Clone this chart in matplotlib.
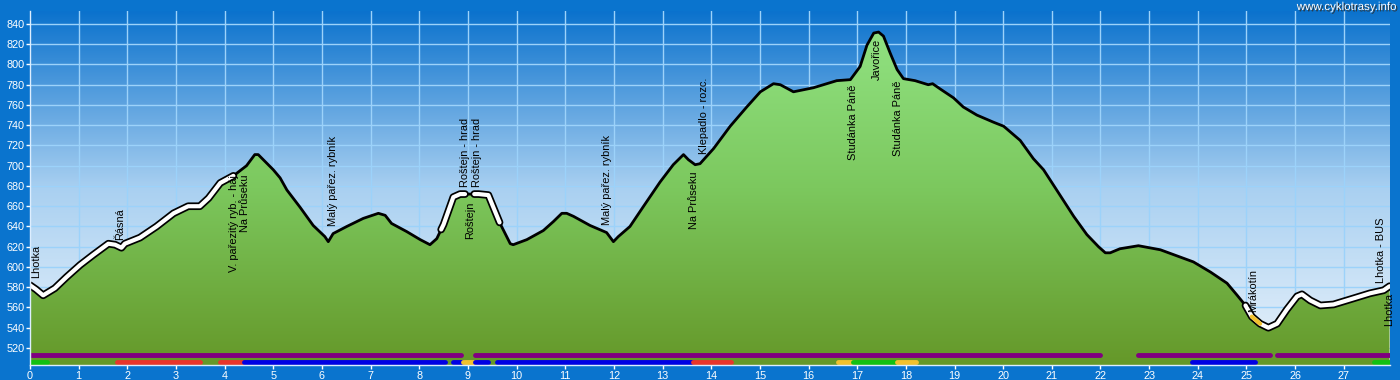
import numpy as np
import matplotlib
matplotlib.use("Agg")
import matplotlib.pyplot as plt
import matplotlib.patheffects as pe
from matplotlib.colors import LinearSegmentedColormap

# ----------------------------------------------------------------- data
km = [0.00, 0.12, 0.27, 0.51, 0.75, 1.03, 1.30, 1.61, 1.75, 1.88, 1.95, 2.26,
      2.60, 2.95, 3.25, 3.49, 3.67, 3.91, 4.18, 4.45, 4.62, 4.69, 5.00, 5.14,
      5.28, 5.55, 5.82, 6.06, 6.13, 6.23, 6.51, 6.85, 7.16, 7.30, 7.43, 7.74,
      8.02, 8.22, 8.36, 8.45, 8.50, 8.70, 8.84, 8.94, 9.13, 9.22, 9.42, 9.65,
      9.87, 9.93, 10.21, 10.55, 10.76, 10.93, 11.03, 11.17, 11.51, 11.85,
      11.99, 12.09, 12.33, 12.61, 12.95, 13.22, 13.43, 13.53, 13.67, 13.77,
      14.05, 14.39, 14.73, 15.01, 15.28, 15.42, 15.69, 16.10, 16.58, 16.86,
      17.06, 17.20, 17.34, 17.44, 17.54, 17.68, 17.82, 17.95, 18.19, 18.46,
      18.55, 18.70, 18.98, 19.18, 19.46, 19.80, 20.01, 20.35, 20.62, 20.83,
      21.10, 21.45, 21.72, 21.96, 22.10, 22.20, 22.40, 22.78, 23.23, 23.91,
      24.26, 24.60, 24.81, 24.98, 25.11, 25.28, 25.45, 25.63, 25.83, 26.04,
      26.14, 26.31, 26.52, 26.79, 27.20, 27.54, 27.82, 27.94]
elev = [582, 578, 572, 579, 590, 602, 612, 623, 622, 619, 623, 629,
        640, 653, 660, 660, 668, 683, 690, 700, 711, 711, 696, 688,
        676, 659, 641, 630, 625, 633, 640, 648, 653, 651, 643, 635,
        627, 622, 628, 637, 642, 669, 672, 672, 672, 672, 671, 644,
        623, 622, 627, 636, 645, 653, 653, 650, 641, 634,
        625, 630, 640, 660, 684, 701, 711, 706, 701, 702,
        717, 739, 758, 773, 781, 780, 773, 777, 784, 785,
        798, 819, 831, 832, 828, 811, 795, 786, 784, 780,
        781, 776, 767, 758, 750, 743, 739, 725, 707, 696,
        676, 650, 632, 620, 614, 614, 618, 621, 617, 605,
        595, 584, 572, 562, 551, 544, 540, 544, 558, 571,
        573, 567, 562, 563, 569, 574, 577, 581]

# highlighted (white) stretches of the route and the yellow piece inside one
white_ranges = [(0.0, 4.18), (8.45, 8.94), (9.13, 9.65), (24.98, 27.94)]
yellow_ranges = [(25.11, 25.28)]

# waypoint labels: name, km, elevation of the point, side of the line
wp_names = ["Lhotka", "Řásná", "V. pařezitý ryb. - háj.", "Na Průseku",
            "Malý pařez. rybník", "Roštejn - hrad", "Roštejn", "Roštejn - hrad",
            "Malý pařez. rybník", "Na Průseku", "Klepadlo - rozc.",
            "Studánka Páně", "Javořice", "Studánka Páně", "Mrákotín",
            "Lhotka - BUS", "Lhotka"]
wp_km = [0.12, 1.86, 4.20, 4.42, 6.23, 8.93, 9.05, 9.18, 11.85, 13.65, 13.85,
         16.92, 17.40, 17.83, 25.13, 27.76, 27.94]
wp_elev = [582, 620, 701, 698, 633, 672, 672, 672, 634, 701, 705,
           787, 832, 791, 549, 577, 581]
wp_above = [True, True, False, False, True, True, False, True, True, False, True,
            False, False, False, True, True, False]

# surface / route-type bars under the profile
purple_bars = [(0.0, 8.85), (9.15, 21.98), (22.77, 25.48), (25.62, 27.95)]
surface_bars = [
    (0.0, 0.35, "green"), (1.79, 3.50, "red"), (3.90, 4.39, "red"),
    (4.39, 8.53, "blue"), (8.70, 8.90, "blue"), (8.90, 9.15, "yellow"),
    (9.15, 9.42, "blue"), (9.60, 13.63, "blue"), (13.63, 14.41, "red"),
    (16.60, 16.91, "yellow"), (16.91, 17.81, "green"), (17.81, 18.21, "yellow"),
    (23.88, 25.18, "blue"), (27.63, 27.95, "green"),
]

# ----------------------------------------------------------------- style
FRAME = "#0A74CE"
BAR_COLORS = {"green": "#12C012", "red": "#E8352B", "blue": "#0000E4",
              "yellow": "#F2C12E"}
XMAX, YMIN, YMAX = 27.95, 503.2, 852.8
FONT = "Liberation Sans"

km = np.array(km)
elev = np.array(elev, dtype=float)

fig = plt.figure(figsize=(14, 3.8), dpi=100, facecolor=FRAME)
ax = fig.add_axes([30 / 1400, 15 / 380, 1360 / 1400, 354 / 380])
ax.set_xlim(0, XMAX)
ax.set_ylim(YMIN, YMAX)
ax.set_facecolor(FRAME)

# sky gradient
sky = LinearSegmentedColormap.from_list("sky", ["#EAF3FB", "#A9D0F1", "#0B72CD"])
grad = np.linspace(0, 1, 256).reshape(-1, 1)
ax.imshow(grad, cmap=sky, origin="lower", aspect="auto",
          extent=[0, XMAX, YMIN, YMAX], zorder=0)

# grid
ax.set_xticks(np.arange(0, 28))
ax.set_yticks(np.arange(520, 841, 20))
for x in range(1, 28):
    ax.plot([x, x], [YMIN, YMAX], color="#9CD2FA", lw=1, zorder=1)
for y in range(520, 841, 20):
    ax.plot([0, XMAX], [y, y], color="#9CD2FA", lw=1, zorder=1)

# green terrain with vertical gradient, clipped to the profile
grass = LinearSegmentedColormap.from_list("grass", ["#659829", "#7CC85E", "#93E586"])
poly = ax.fill_between(km, elev, YMIN, facecolor="none", edgecolor="none", zorder=2)
im = ax.imshow(grad, cmap=grass, origin="lower", aspect="auto",
               extent=[0, XMAX, YMIN, YMAX], zorder=2)
im.set_clip_path(poly.get_paths()[0], transform=ax.transData)

# profile line
ax.plot(km, elev, color="black", lw=2, zorder=4, solid_joinstyle="round")
for lo, hi in white_ranges:
    m = (km >= lo) & (km <= hi)
    ax.plot(km[m], elev[m], color="black", lw=5.5, zorder=5,
            solid_capstyle="round", solid_joinstyle="round")
    ax.plot(km[m], elev[m], color="white", lw=3, zorder=6,
            solid_capstyle="round", solid_joinstyle="round")
for lo, hi in yellow_ranges:
    m = (km >= lo) & (km <= hi)
    ax.plot(km[m], elev[m], color="#F2C12E", lw=3, zorder=7,
            solid_capstyle="round")

# waypoint labels
for name, x, y, above in zip(wp_names, wp_km, wp_elev, wp_above):
    if above:
        ax.text(x, y + 7, name, rotation=90, ha="center", va="bottom",
                fontsize=7.9, family=FONT, color="black", zorder=8)
    else:
        ax.text(x, y - 7, name, rotation=90, ha="center", va="top",
                fontsize=7.9, family=FONT, color="black", zorder=8)

# bars
for lo, hi in purple_bars:
    ax.plot([lo, hi], [512.7, 512.7], color="#800080", lw=3.5,
            solid_capstyle="round", zorder=9)
for lo, hi, c in surface_bars:
    ax.plot([lo, hi], [506.6, 506.6], color=BAR_COLORS[c], lw=3.5,
            solid_capstyle="round", zorder=9)

# axes styling
for s in ["top", "right"]:
    ax.spines[s].set_visible(False)
for s in ["left", "bottom"]:
    ax.spines[s].set_color("#DDEEFF")
    ax.spines[s].set_linewidth(1)
    ax.spines[s].set_zorder(10)
ax.tick_params(colors="white", length=3, width=1, labelsize=7.8, pad=1)
for lab in ax.get_xticklabels() + ax.get_yticklabels():
    lab.set_family(FONT)

fig.text(1396 / 1400, 1 - 7 / 380, "www.cyklotrasy.info", ha="right", va="center",
         fontsize=8.3, family=FONT, color="white",
         path_effects=[pe.withSimplePatchShadow(offset=(1, -1),
                                                shadow_rgbFace="#303030", alpha=0.9)])

fig.savefig("out.png", dpi=100, facecolor=FRAME)
